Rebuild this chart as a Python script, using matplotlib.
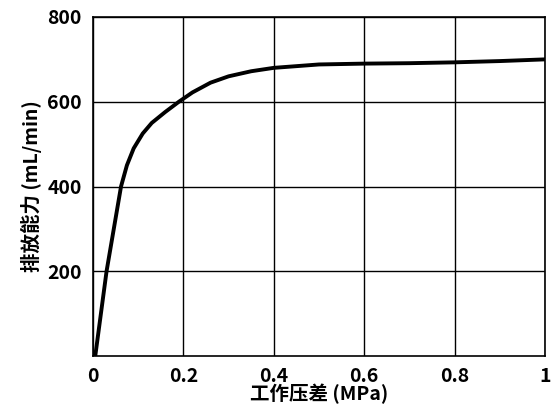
import matplotlib
matplotlib.use('Agg')
import matplotlib.pyplot as plt

plt.rcParams['font.family'] = ['Noto Sans CJK SC', 'DejaVu Sans']
plt.rcParams['font.weight'] = 'black'

# pressure difference (MPa) vs discharge (mL/min)
pressure = [0.005, 0.03, 0.062, 0.075, 0.09, 0.11, 0.13, 0.16, 0.19, 0.22, 0.26, 0.3, 0.35, 0.4, 0.5, 0.6, 0.7, 0.8, 0.9, 1.0]
flow = [0, 200, 400, 450, 490, 525, 550, 576, 600, 622, 645, 660, 672, 680, 688, 690, 691, 693, 696, 700]

fig = plt.figure(figsize=(5.51, 4.2), dpi=100)
ax = fig.add_axes([93 / 551, 64 / 420, 452 / 551, 339 / 420])
ax.plot(pressure, flow, color='black', linewidth=2.8, solid_joinstyle='round')
ax.set_xlim(0, 1)
ax.set_ylim(0, 800)
ax.set_xticks([0, 0.2, 0.4, 0.6, 0.8, 1.0])
ax.set_xticklabels(['0', '0.2', '0.4', '0.6', '0.8', '1'], fontweight='black')
ax.set_yticks([200, 400, 600, 800])
ax.set_yticklabels(['200', '400', '600', '800'], fontweight='black')
ax.grid(True, color='black', linewidth=1)
ax.tick_params(length=0, labelsize=14, pad=8)
for s in ax.spines.values():
    s.set_linewidth(1.2)
ax.set_xlabel('工作压差 (MPa)', fontsize=14, fontweight='black', labelpad=-2)
ax.set_ylabel('排放能力 (mL/min)', fontsize=14, fontweight='black', labelpad=4)
fig.savefig('out.png')
